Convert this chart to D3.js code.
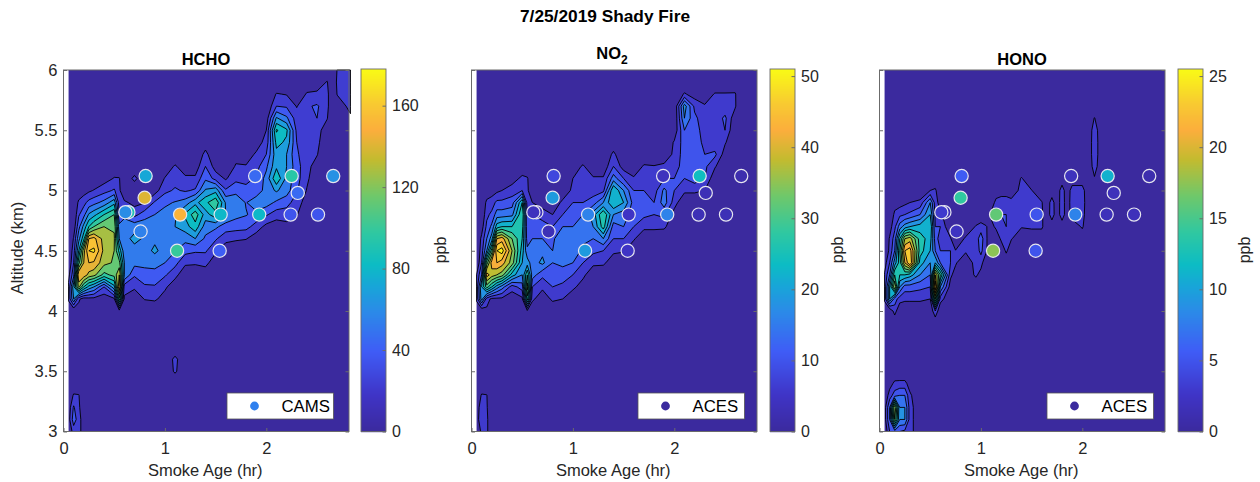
<!DOCTYPE html>
<html><head><meta charset="utf-8">
<script src="https://cdnjs.cloudflare.com/ajax/libs/d3/7.8.5/d3.min.js"></script>
<style>html,body{margin:0;padding:0;background:#fff}svg{display:block}text{font-family:"Liberation Sans",Arial,sans-serif}</style>
</head><body><div id="c"></div>
<script>
// ---------- data ----------
const altitudes = [3,3.1,3.2,3.3,3.4,3.5,3.6,3.7,3.8,3.9,4,4.1,4.2,4.3,4.4,4.5,4.6,4.7,4.8,4.9,5,5.1,5.2,5.3,5.4,5.5,5.6,5.7,5.8,5.9,6];
const L = [0,0,0,0,0,0,0,0,0,0]; // altitudes 3.0-3.9 with no plume
const ageColumns = [.05,.1,.15,.2,.25,.3,.4,.5,.55,.6,.7,.8,.9,1,1.1,1.2,1.3,1.4,1.5,1.6,1.7,1.8,1.9,2,2.1,2.2,2.3,2.4,2.5,2.6,2.65,2.7,2.83];
const hchoColumns = [
 [0,8,5,0,0,0,0,0,0,0, 0,18,18,10],
 [22,38,32,17,0,0,0,0,0,0, 0,60,70,40,30,22,16,5],
 [22,22,18,16,0,0,0,0,0,0, 8,18,125,150,100,75,55,40,28,18,4],
 [5,5,3,0,0,0,0,0,0,0, 0,8,90,145,135,130,85,65,40,25,8],
 [...L, 0,10,70,130,150,165,150,90,62,35,12],
 [...L, 0,10,60,125,148,168,155,105,70,40,16],
 [...L, 0,5,30,100,125,130,128,120,90,50,24,8],
 [...L, 0,12,70,110,118,120,122,118,105,70,32,16,5],
 [...L, 8,100,150,135,110,85,60,50,30,22,18,16,0],
 [...L, 0,12,22,60,60,50,55,55,40,18,0],
 [...L, 0,3,18,32,50,55,64,55,25,10,0,20],
 [...L, 0,16,28,38,50,52,58,55,38,14,0],
 [...L, 0,18,28,42,48,64,56,52,45,32,8],
 [...L, 0,8,18,32,45,52,56,56,50,42,26,16,4],
 [0,0,0,0,0,18,20,0,0,0, 0,0,5,20,35,46,56,60,58,46,32,24,17,2],
 [...L, 0,0,0,4,18,35,50,68,78,52,28,18,6],
 [...L, 0,0,0,4,17,32,60,85,98,70,32,18,6],
 [...L, 0,0,0,5,20,32,42,52,68,86,62,42,30,20,6],
 [...L, 0,0,0,0,5,18,32,48,85,102,70,24,8],
 [...L, 0,0,0,0,0,5,20,38,60,58,32,13],
 [...L, 0,0,0,0,0,0,18,36,50,56,40,26,17,8],
 [...L, 0,0,0,0,0,0,16,35,46,44,36,24,16,8],
 [...L, 0,0,0,0,0,0,6,24,40,56,34,32,24,17,8],
 [...L, 0,0,0,0,0,0,0,10,32,52,52,50,42,30,20,15,6],
 [...L, 0,0,0,0,0,0,0,6,22,42,62,88,72,70,80,92,62,30,16,2],
 [...L, 0,0,0,0,0,0,0,10,22,36,52,56,60,60,72,78,48,28,14,0],
 [...L, 0,0,0,0,0,0,0,6,16,22,32,36,36,32,30,26,22,14,0],
 [...L, 0,0,0,0,0,0,0,0,4,8,14,18,20,22,20,20,26,28,17,2],
 [...L, 0,0,0,0,0,0,0,0,0,0,0,4,8,16,20,22,30,32,18,6],
 [...L, 0,0,0,0,0,0,0,0,0,0,0,0,0,0,0,5,16,20,20,16,2],
 [...L],
 [...L, 0,0,0,0,0,0,0,0,0,0,0,0,0,0,0,0,0,5,16,18,16],
 [...L, 0,0,0,0,0,0,0,0,0,0,0,0,0,0,0,5,12,20,22,25,25]
];
const no2Columns = [
 [0,2,2,0,0,0,0,0,0,0, 0,5,5,4],
 [5,7,6,4.5,0,0,0,0,0,0, 0,18,20,12,8,6,5,2],
 [5,5,4.5,4.2,0,0,0,0,0,0, 3,6,30,42,30,16,12,9,7,5,1],
 [...L, 0,3,24,38,42,30,18,13,9,6,2],
 [...L, 0,3,18,36,44,48,40,22,14,9,3],
 [...L, 0,3,14,34,42,50,42,24,14,9,4],
 [...L, 0,1,6,22,34,36,32,24,15,10,6,2],
 [...L, 0,3,10,16,20,22,24,26,28,24,8,5,1],
 [...L, 3,26,34,28,18,13,10,9,8,6,5,4.5,0],
 [...L, 0,5,8,14,14,12,12,10,8,4,0],
 [...L, 0,1,5,9,17,15,12,10,6,2],
 [...L, 0,5,8,10,12,12,11,8,4,1],
 [...L, 0,4,7,10,13,16,16,12,8,5,1],
 [...L, 0,1,5,8,12,15,13,12,10,8,5,4,2],
 [...L, 0,0,2,5,8,11,13,12,12,8,6,5,4.5,1],
 [...L, 0,0,0,1,5,9,12,16,18,10,6,4.5,1],
 [...L, 0,0,0,0,5,8,16,26,28,16,7,4.5,1],
 [...L, 0,0,0,0,1,5,8,10,16,24,24,14,8,5,1],
 [...L, 0,0,0,0,0,4.5,8,12,14,20,16,8,2],
 [...L, 0,0,0,0,0,1,4.5,8,10,10,8,4.5,1],
 [...L, 0,0,0,0,0,0,1,5,9,9,8,5,4.5,1],
 [...L, 0,0,0,0,0,0,1,5,8,8,6,5,4.2,1],
 [...L, 0,0,0,0,0,0,0,5,9,14,13,8,5,1],
 [...L, 0,0,0,0,0,0,0,0,2,6,8,8,6,5,4.5,1],
 [...L, 0,0,0,0,0,0,0,0,0,0,5,8,10,10,10,12,16,18,4.5,0],
 [...L, 0,0,0,0,0,0,0,0,0,0,5,10,11,11,10,10,9,7,2],
 [...L, 0,0,0,0,0,0,0,0,0,0,4,8,9,8,7,6,5.5,4.5,1],
 [...L, 0,0,0,0,0,0,0,0,0,0,0,1,4.5,9,5,6,5,5,4.4,0],
 [...L, 0,0,0,0,0,0,0,0,0,0,0,0,0,2,4.5,8,9,5,4.4,0],
 [...L, 0,0,0,0,0,0,0,0,0,0,0,0,0,0,0,0,1,4.6,4.5,0],
 [...L],
 [...L],
 [...L]
];
const honoAgeColumns = [.05,.1,.15,.2,.25,.3,.4,.5,.55,.6,.7,.75,.85,.95,1,1.05,1.1,1.15,1.2,1.25,1.3,1.4,1.5,1.6,1.65,1.7,1.75,1.8,1.85,1.9,2,2.05,2.12,2.2,2.83];
const honoColumns = [
 [0,1,1,0,0,0,0,0,0,0, 0,2.5,2.5,2.2,1],
 [4,6,6,3,1,0,0,0,0,0, 0,10,10,6,4,2.5,2.2,1],
 [5,16,18,5,2.5,0,0,0,0,0, 3,5,18,14,9,6,5,3.5,2.5,1],
 [4,8,8,6,2.6,0,0,0,0,0, 0,3,8,12,13,14,12,7,3.5,1],
 [3.5,8,8,6,2.6,0,0,0,0,0, 0,2.5,5,12,20,22,18,9,4,1.5],
 [3,3,3,2.4,1,0,0,0,0,0, 0,2.5,5,11,24,23,19,10,4.5,2],
 [...L, 0,2.5,4.5,8,11,13,13,11,6,2.6,0],
 [...L, 0,2,4,6,8,10,11,12,10,8,2,0],
 [...L, 4,16,24,20,10,6,5,4,3.5,3,2.4,0],
 [...L, 0,3,8,14,6,4,3,4,2.5,1,0],
 [...L, 0,0,1,2.5,4,4,2.2,0],
 [...L, 0,0,0,1,2.3,2.1,0],
 [...L, 0,0,0,0,0,2.4,2.4,0],
 [...L, 0,0,0,2.5,3,3,3,2.2,0],
 [...L, 0,0,0,1,3,4.5,5,3,0],
 [...L, 0,0,0,0,0,2.5,2.5,2.2,0],
 [...L, 0,0,0,0,0,0,0,1,2.6,0],
 [...L, 0,0,0,0,0,0,0,2.6,3,3,0],
 [...L, 0,0,0,0,0,0,2.5,3.5,4,3,1],
 [...L, 0,0,0,0,0,2.5,3,4,4,3,1],
 [...L, 0,0,0,0,0,0,2.2,2.5,3,3,0],
 [...L, 0,0,0,0,0,0,0,2.2,3,3.5,3,2.2,0],
 [...L, 0,0,0,0,0,0,0,2.5,4,3.5,2.1,0],
 [...L, 0,0,0,0,0,0,0,2.5,2.5,2.2,0],
 [...L],
 [...L, 0,0,0,0,0,0,0,0,3.6,3.4,0],
 [...L],
 [...L, 0,0,0,0,0,0,0,0,3.8,3.8,3.6,0],
 [...L],
 [...L, 0,0,0,0,0,0,0,0,3.4,3.8,3.4,0],
 [...L, 0,0,0,0,0,0,0,2.4,3.4,3.8,3.4,0],
 [...L],
 [...L, 0,0,0,0,0,0,0,0,0,0,0,1.8,3,3.4,3.4,3.2,2.1,0],
 [...L],
 [...L]
];
const dotAges = [.64,.61,.81,.80,.76,1.15,1.12,1.54,1.55,1.89,1.93,2.25,2.24,2.51,2.31,2.66];
const dotAlts = [4.82,4.82,5.12,4.94,4.66,4.8,4.5,4.5,4.8,5.12,4.8,5.12,4.8,4.8,4.98,5.12];
const hchoDots = [90,60,72,140,55,150,100,40,80,45,80,95,35,35,45,62];
const no2Dots = [4,4,8,19,3,16,19,5,5,4,16,24,3,3,3,2];
const honoDots = [1.5,3,5.5,14,2.2,16,17.5,5,5,2,8,11,1.8,1.8,1.8,1];
const xTicks = [0,1,2];
const yTicks = [3,3.5,4,4.5,5,5.5,6];
const titles = ["HCHO","NO","HONO"];
const legendNames = ["CAMS","ACES","ACES"];
const cbarMax = [178,51,25.5];
const cbarTicks = [[0,40,80,120,160],[0,10,20,30,40,50],[0,5,10,15,20,25]];
const levelSteps = [15,4,2];
const cmapPos = [0,.1,.22,.33,.4,.46,.55,.65,.75,.83,.9,1];
const cmapCol = ["#3b2a9e","#3f34c6","#3f5cf6","#2b8ae8","#18a5d8","#0cbcc4","#30c8a0","#6fc86a","#c3bb2f","#fbae3c","#f8c832","#f9fb15"];

// ---------- drawing ----------
const W = 1260, H = 482;
const svg = d3.select("#c").append("svg").attr("width",W).attr("height",H);
const cmap = d3.scaleLinear().domain(cmapPos).range(cmapCol).interpolate(d3.interpolateRgb);
const TOP=70, BOT=431.5;
const y = d3.scaleLinear().domain([3,6]).range([BOT,TOP]);
const ink = "#262626", line="#6b6b6b";
const panelLeft=[63.5,471.5,879.5], panelRight=[349,757,1165], cbarLeft=[361,770,1178];
const legendLeft=[227,638,1047];
const xsAll=[ageColumns,ageColumns,honoAgeColumns];
const gridAll=[hchoColumns,no2Columns,honoColumns];
const dotsAll=[hchoDots,no2Dots,honoDots];
const titleX=[206,612,1022], titleY=[65,59,65];
const ppbX=[446,843,1250];

svg.append("text").attr("x",605).attr("y",22).attr("text-anchor","middle").attr("font-weight","bold").attr("font-size",17.3).attr("fill","#000").text("7/25/2019 Shady Fire");

panelLeft.forEach((left,p)=>{
  const right=panelRight[p];
  const x=d3.scaleLinear().domain([0,1]).range([left,left+101.4]);
  const xs=xsAll[p], cols=gridAll[p];
  const n=xs.length, m=altitudes.length;
  const flat=[];
  for(let j=0;j<m;j++) for(let i=0;i<n;i++) flat.push(cols[i][j]??0);
  const color=v=>cmap(v/cbarMax[p]);
  const step=levelSteps[p];
  const levels=d3.range(step,cbarMax[p],step);
  const sx=d3.scaleLinear().domain(xs.map((_,i)=>i+.5)).range(xs.map(v=>x(v))).clamp(true);
  const sy=d3.scaleLinear().domain(altitudes.map((_,i)=>i+.5)).range(altitudes.map(v=>y(v))).clamp(true);
  const path=d3.geoPath(d3.geoTransform({point(a,b){this.stream.point(sx(a),sy(b));}}));
  const g=svg.append("g");
  g.append("rect").attr("x",x(xs[0])).attr("y",TOP).attr("width",right-x(xs[0])).attr("height",BOT-TOP).attr("fill",color(0));
  const cs=d3.contours().size([n,m]).thresholds(levels)(flat);
  g.selectAll("path.band").data(cs).join("path").attr("class","band")
    .attr("d",path).attr("fill",d=>color(d.value+step/2)).attr("stroke","#000").attr("stroke-width",.9).attr("stroke-linejoin","round");

  // frame and axes
  g.append("rect").attr("x",left).attr("y",TOP).attr("width",right-left).attr("height",BOT-TOP).attr("fill","none").attr("stroke",line).attr("stroke-width",1);
  const ax=d3.axisBottom(x).tickValues(xTicks).tickSizeInner(-3.5).tickSizeOuter(0).tickPadding(11).tickFormat(d3.format("d"));
  const gx=g.append("g").attr("transform",`translate(0,${BOT})`).call(ax);
  gx.select(".domain").remove();
  gx.selectAll("line").attr("stroke",line);
  gx.selectAll("text").attr("font-size",16.5).attr("fill",ink);
  const ay=d3.axisLeft(y).tickValues(yTicks).tickSizeInner(-3.5).tickSizeOuter(0).tickPadding(6).tickFormat(p===0?(d=>String(d)):"");
  const gy=g.append("g").attr("transform",`translate(${left},0)`).call(ay);
  gy.select(".domain").remove();
  gy.selectAll("line").attr("stroke",line);
  gy.selectAll("text").attr("font-size",16.5).attr("fill",ink);
  const ayR=d3.axisRight(y).tickValues(yTicks).tickSizeInner(-3.5).tickSizeOuter(0).tickFormat("");
  const gyR=g.append("g").attr("transform",`translate(${right},0)`).call(ayR);
  gyR.select(".domain").remove(); gyR.selectAll("line").attr("stroke",line);

  // dots
  g.selectAll("circle.dot").data(dotsAll[p]).join("circle").attr("class","dot")
    .attr("cx",(d,i)=>x(dotAges[i])).attr("cy",(d,i)=>y(dotAlts[i])).attr("r",6.6)
    .attr("fill",d=>color(d)).attr("stroke","#e6e6ee").attr("stroke-width",1.2);

  // legend
  const lx=legendLeft[p], lw=106.5;
  g.append("rect").attr("x",lx).attr("y",393).attr("width",lw).attr("height",26).attr("fill","#fff").attr("stroke","#555").attr("stroke-width",.8);
  g.append("circle").attr("cx",lx+27.5).attr("cy",406).attr("r",4.4).attr("fill",p===0?"#2f80ee":"#3b2a9e");
  g.append("text").attr("x",lx+54.5).attr("y",412).attr("font-size",16.8).attr("fill","#000").text(legendNames[p]);

  // titles
  const t=svg.append("text").attr("x",titleX[p]).attr("y",titleY[p]).attr("text-anchor","middle").attr("font-weight","bold").attr("font-size",16.5).attr("fill","#000").text(titles[p]);
  if(p===1) t.append("tspan").attr("dy",5).attr("font-size",12).text("2");
  svg.append("text").attr("x",(left+right)/2-1).attr("y",475.5).attr("text-anchor","middle").attr("font-size",16.5).attr("fill",ink).text("Smoke Age (hr)");

  // colorbar
  const cl=cbarLeft[p], cw=25;
  const cy=d3.scaleLinear().domain([0,cbarMax[p]]).range([BOT,TOP-1]);
  const cg=svg.append("g");
  cg.selectAll("rect").data(d3.range(0,BOT-TOP+1,1)).join("rect").attr("x",cl).attr("y",d=>TOP-1+d).attr("width",cw).attr("height",1.2)
    .attr("fill",d=>color(cy.invert(TOP-1+d+.5)));
  cg.append("rect").attr("x",cl).attr("y",TOP-1).attr("width",cw).attr("height",BOT-TOP+1).attr("fill","none").attr("stroke",line).attr("stroke-width",.9);
  const ac=d3.axisRight(cy).tickValues(cbarTicks[p]).tickSizeInner(-3.5).tickSizeOuter(0).tickPadding(6);
  const gc=cg.append("g").attr("transform",`translate(${cl+cw},0)`).call(ac);
  gc.select(".domain").remove(); gc.selectAll("line").attr("stroke",line);
  gc.selectAll("text").attr("font-size",16).attr("fill",ink);
  svg.append("text").attr("transform",`translate(${ppbX[p]},250) rotate(-90)`).attr("text-anchor","middle").attr("font-size",16).attr("fill",ink).text("ppb");
});
svg.append("text").attr("transform","translate(23,248) rotate(-90)").attr("text-anchor","middle").attr("font-size",16.5).attr("fill",ink).text("Altitude (km)");
</script></body></html>
